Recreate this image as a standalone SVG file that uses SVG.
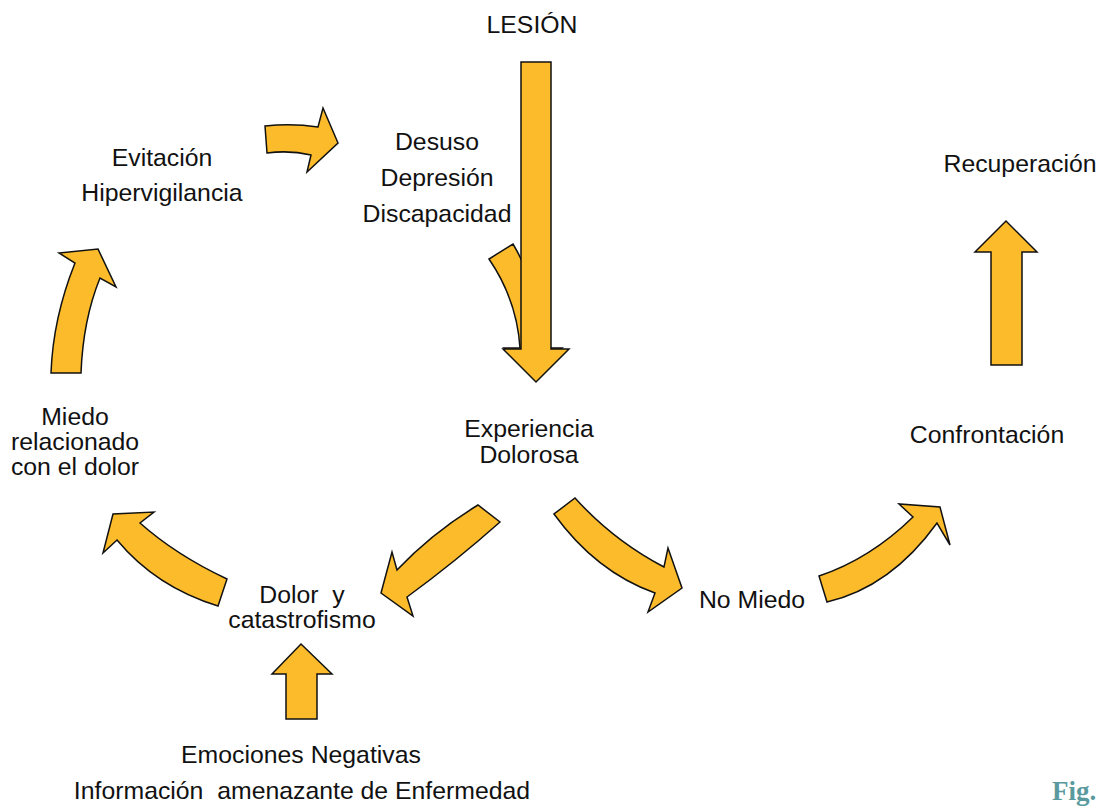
<svg xmlns="http://www.w3.org/2000/svg" width="1100" height="806" viewBox="0 0 1100 806">
<style>
.arr{fill:#FCBB2B;stroke:#111;stroke-width:1.5;stroke-linejoin:miter}
.t{font-family:"Liberation Sans",Arial,sans-serif;font-size:24.8px;fill:#111;text-anchor:middle}
.fig{font-family:"Liberation Serif","Times New Roman",serif;font-size:27px;font-weight:bold;fill:#5A9A9E}
</style>
<rect width="1100" height="806" fill="#fff"/>
<g id="connectors">
<path class="arr" d="M489,259 Q517,300 520,348 L504,348 L532,374 L562,348 L545,348 Q540,290 513,244 Z"/>
<polygon class="arr" points="521,62 551,62 551,349 569,349 536,382 503,349 521,349"/>
<path class="arr" d="M265,126 Q292,123 318,127 L323,108 L338,143 L307,172 L311,155 Q290,150 267,153 Z"/>
<path class="arr" d="M51,373 Q53,318 75,263 L59,253 L98,249 L116,287 L100,278 Q83,320 81,373 Z"/>
<path class="arr" d="M227,579 Q176,555 140,523 L154,512 L113,514 L103,553 L117,540 Q156,587 218,606 Z"/>
<path class="arr" d="M478,505 Q432,533 397,570 L392,552 L381,593 L413,616 L407,597 Q455,562 500,522 Z"/>
<path class="arr" d="M575,498 Q614,541 664,567 L668,548 L682,588 L648,612 L655,593 Q596,572 554,514 Z"/>
<path class="arr" d="M819,576 Q870,559 913,517 L899,504 L940,507 L950,545 L937,523 Q891,587 827,602 Z"/>
<polygon class="arr" points="286,719 317,719 317,674 332,674 301,644 272,674 286,674"/>
<polygon class="arr" points="991,365 1022,365 1022,252 1037,252 1006,221 975,252 991,252"/>
</g>
<g id="lesion"><text class="t" x="532" y="33">LESIÓN</text></g>
<g id="desuso"><text class="t" x="437" y="150">Desuso</text><text class="t" x="437" y="186">Depresión</text><text class="t" x="437" y="222">Discapacidad</text></g>
<g id="evitacion"><text class="t" x="162" y="166">Evitación</text><text class="t" x="162" y="201">Hipervigilancia</text></g>
<g id="recuperacion"><text class="t" x="1020" y="172">Recuperación</text></g>
<g id="miedo"><text class="t" x="75" y="425">Miedo</text><text class="t" x="75" y="450">relacionado</text><text class="t" x="75" y="475">con el dolor</text></g>
<g id="experiencia"><text class="t" x="529" y="437">Experiencia</text><text class="t" x="529" y="463">Dolorosa</text></g>
<g id="confrontacion"><text class="t" x="987" y="443">Confrontación</text></g>
<g id="dolor"><text class="t" x="302" y="603" xml:space="preserve">Dolor  y</text><text class="t" x="302" y="628">catastrofismo</text></g>
<g id="nomiedo"><text class="t" x="752" y="608">No Miedo</text></g>
<g id="emociones"><text class="t" x="301" y="763">Emociones Negativas</text><text class="t" x="302" y="799" xml:space="preserve">Información  amenazante de Enfermedad</text></g>
<text class="fig" x="1052" y="800">Fig.</text>
</svg>
